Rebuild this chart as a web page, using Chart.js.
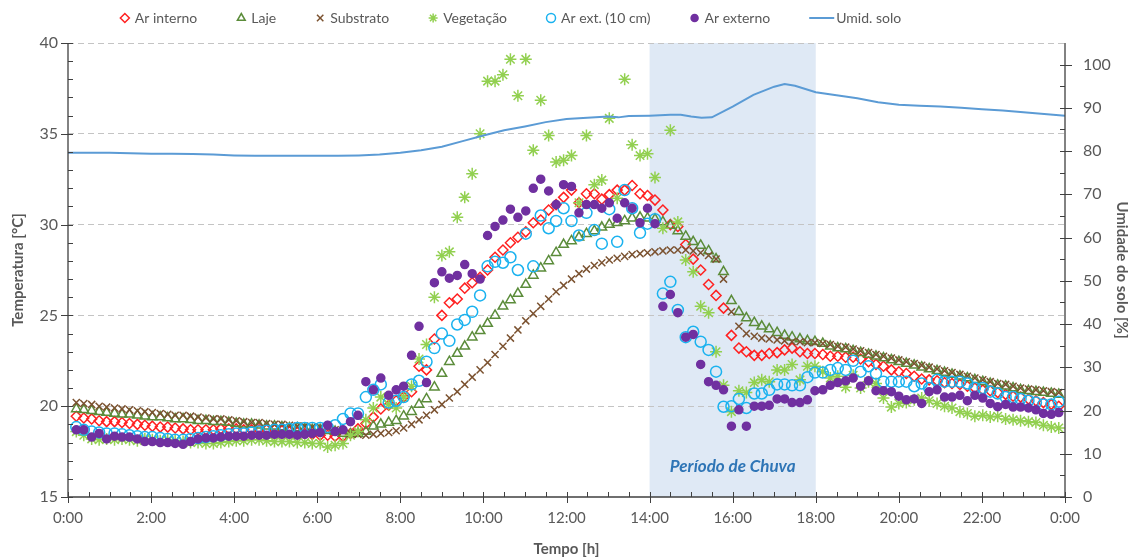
<!DOCTYPE html>
<html><head><meta charset="utf-8">
<script src="https://cdn.jsdelivr.net/npm/chart.js@4.4.0/dist/chart.umd.min.js"></script>
<style>html,body{margin:0;padding:0;background:#fff}#wrap{width:1131px;height:558px}</style>
</head><body><div id="wrap"><canvas id="c" width="1131" height="558"></canvas></div>
<script>
// tempo (horas) das leituras de temperatura
const tempo = [0.20,0.38,0.57,0.75,0.93,1.12,1.30,1.48,1.67,1.85,2.03,
2.22,2.40,2.58,2.77,2.95,3.13,3.32,3.50,3.68,3.87,4.05,
4.23,4.42,4.60,4.78,4.97,5.15,5.33,5.52,5.70,5.88,6.07,
6.25,6.43,6.62,6.80,6.98,7.17,7.35,7.53,7.72,7.90,8.08,
8.27,8.45,8.63,8.82,9.00,9.18,9.37,9.55,9.73,9.92,10.10,
10.28,10.47,10.65,10.83,11.02,11.20,11.38,11.57,11.75,11.93,12.12,
12.30,12.48,12.67,12.85,13.03,13.22,13.40,13.58,13.77,13.95,14.13,
14.32,14.50,14.68,14.87,15.05,15.23,15.42,15.60,15.78,15.97,16.15,
16.33,16.52,16.70,16.88,17.07,17.25,17.43,17.62,17.80,17.98,18.17,
18.35,18.53,18.72,18.90,19.08,19.27,19.45,19.63,19.82,20.00,20.18,
20.37,20.55,20.73,20.92,21.10,21.28,21.47,21.65,21.83,22.02,22.20,
22.38,22.57,22.75,22.93,23.12,23.30,23.48,23.67,23.85];

const arInterno = [19.45,19.35,19.3,19.2,19.15,19.15,19.1,19.05,19.0,18.95,18.9,
18.85,18.85,18.8,18.75,18.7,18.7,18.7,18.7,18.75,18.75,18.75,
18.7,18.7,18.7,18.7,18.7,18.65,18.6,18.55,18.5,18.45,18.4,
18.4,18.35,18.35,18.5,18.75,19.05,19.4,19.85,20.05,20.3,20.5,
20.8,22.2,22.0,23.7,25.0,25.7,25.9,26.5,26.8,27.1,27.5,
28.2,28.6,29.0,29.3,29.6,30.1,30.25,30.8,31.1,31.5,31.9,
31.2,31.7,31.7,31.4,31.65,31.9,31.9,32.15,31.7,31.6,31.35,
30.8,30.0,29.9,28.9,28.1,27.5,26.7,26.1,25.4,23.9,23.2,
23.0,22.8,22.8,22.9,22.95,23.1,23.2,23.0,22.9,22.9,22.85,
22.75,22.75,22.7,22.7,22.6,22.45,22.3,22.2,22.0,21.9,21.8,
21.65,21.5,21.45,21.4,21.3,21.25,21.2,21.1,21.0,20.9,20.85,
20.75,20.65,20.55,20.5,20.4,20.3,20.2,20.1,20.0];

const laje = [19.85,19.8,19.75,19.7,19.65,19.6,19.55,19.55,19.5,19.45,19.4,
19.4,19.35,19.3,19.3,19.25,19.2,19.2,19.15,19.15,19.1,19.05,
19.0,19.0,18.95,18.9,18.9,18.85,18.8,18.8,18.75,18.7,18.7,
18.65,18.6,18.5,18.45,18.5,18.6,18.9,19.0,19.1,19.2,19.45,
19.7,20.1,20.4,21.05,21.8,22.45,22.9,23.3,23.8,24.15,24.55,
25.0,25.5,25.85,26.2,26.7,27.2,27.6,28.0,28.45,28.9,29.1,
29.3,29.5,29.65,29.85,30.0,30.1,30.2,30.35,30.4,30.35,30.3,
30.15,29.95,29.65,29.35,29.05,28.85,28.55,28.1,27.4,25.8,25.2,
24.85,24.6,24.4,24.25,24.05,23.9,23.8,23.7,23.6,23.55,23.45,
23.3,23.2,23.15,23.05,22.95,22.85,22.75,22.65,22.55,22.45,22.35,
22.25,22.15,22.05,21.95,21.85,21.75,21.65,21.55,21.45,21.35,21.25,
21.15,21.1,21.0,20.9,20.85,20.8,20.75,20.7,20.65];

const substrato = [20.2,20.15,20.1,20.0,19.95,19.9,19.85,19.8,19.75,19.7,19.65,
19.6,19.55,19.5,19.5,19.45,19.4,19.35,19.3,19.3,19.25,19.2,
19.15,19.1,19.1,19.05,19.0,19.0,18.95,18.9,18.9,18.85,18.85,
18.8,18.7,18.6,18.5,18.45,18.4,18.45,18.5,18.55,18.65,18.8,
19.0,19.25,19.5,19.8,20.1,20.45,20.8,21.2,21.6,22.0,22.4,
22.85,23.3,23.75,24.2,24.7,25.1,25.5,25.9,26.3,26.65,27.0,
27.3,27.55,27.75,27.9,28.05,28.15,28.25,28.35,28.4,28.45,28.5,
28.55,28.6,28.6,28.6,28.55,28.45,28.3,28.1,27.0,25.2,24.4,
24.0,23.85,23.75,23.7,23.65,23.6,23.55,23.55,23.5,23.5,23.45,
23.4,23.3,23.25,23.15,23.05,22.95,22.85,22.75,22.65,22.55,22.45,
22.35,22.25,22.15,22.05,21.95,21.85,21.75,21.65,21.55,21.45,21.35,
21.25,21.2,21.1,21.0,20.95,20.9,20.85,20.8,20.75];

const vegetacao = [18.6,18.4,18.2,18.15,18.2,18.15,18.2,18.15,18.1,18.2,18.15,
18.1,18.15,18.1,18.05,18.0,18.0,17.95,17.95,18.0,18.05,18.1,
18.1,18.15,18.15,18.1,18.05,18.05,18.05,18.0,18.0,17.95,17.95,
17.75,17.85,17.95,18.4,18.6,19.25,19.9,20.5,20.1,19.9,20.5,
21.1,22.6,23.4,26.0,28.3,28.5,30.4,31.5,32.8,35.0,37.9,
37.9,38.25,39.1,37.1,39.1,34.1,36.85,34.9,33.45,33.55,33.8,
31.2,34.9,32.2,32.45,35.85,31.45,38.0,34.4,33.8,33.9,32.6,
29.8,35.2,30.15,28.05,27.4,25.5,25.15,23.0,21.15,19.7,20.85,
20.75,21.3,21.45,21.35,22.0,22.0,22.3,21.45,22.2,22.2,21.9,
21.55,21.65,21.05,21.7,21.0,21.35,21.25,20.45,19.95,20.15,20.2,
20.35,20.45,20.3,20.15,20.0,19.9,19.7,19.6,19.45,19.5,19.4,
19.45,19.3,19.25,19.2,19.15,19.1,18.95,18.85,18.8];

const arExt10 = [18.85,18.7,18.6,18.55,18.5,18.5,18.45,18.4,18.35,18.3,18.3,
18.25,18.2,18.15,18.15,18.2,18.25,18.3,18.35,18.4,18.45,18.5,
18.5,18.55,18.6,18.65,18.7,18.7,18.75,18.8,18.8,18.8,18.8,
18.85,18.95,19.3,19.6,19.6,20.5,20.9,21.2,20.2,20.3,20.5,
21.2,21.4,22.45,23.2,24.0,23.6,24.5,24.75,25.2,26.1,27.7,
27.95,27.9,28.2,27.5,29.5,27.7,30.5,29.8,30.2,30.9,30.2,
29.4,30.65,29.7,28.95,30.85,29.05,31.9,30.9,29.55,30.05,30.3,
26.2,26.85,25.3,23.8,24.1,23.55,23.1,21.9,19.97,20.0,20.4,
19.9,20.7,20.7,20.9,21.2,21.2,21.15,21.15,21.6,21.85,21.85,
22.0,22.1,22.0,22.5,21.9,22.2,21.8,21.35,21.35,21.35,21.35,
21.1,21.25,21.0,21.45,21.35,21.35,21.35,21.25,21.0,21.0,20.8,
20.7,20.5,20.5,20.4,20.3,20.2,20.1,20.1,20.25];

const arExterno = [18.7,18.7,18.3,18.5,18.2,18.35,18.3,18.3,18.2,18.05,18.05,
18.0,18.0,17.95,17.9,18.05,18.2,18.25,18.25,18.3,18.35,18.35,
18.35,18.4,18.4,18.4,18.45,18.45,18.45,18.4,18.45,18.5,18.55,
18.95,18.6,18.7,19.15,19.5,21.35,20.9,21.55,20.6,20.9,21.1,
22.8,24.4,21.3,26.8,27.4,27.05,27.2,27.8,27.3,27.0,29.4,
29.9,30.25,30.85,30.4,30.75,32.0,32.5,31.85,31.1,32.2,32.1,
30.65,31.1,31.1,30.9,31.2,30.35,31.2,30.9,30.1,30.9,30.05,
25.5,26.15,25.15,23.8,23.95,22.3,21.35,21.15,20.9,18.9,19.8,
18.9,20.0,20.0,20.05,20.4,20.4,20.2,20.2,20.35,20.85,20.9,
21.15,21.3,21.4,21.55,21.1,21.4,20.85,20.85,20.8,20.55,20.35,
20.4,20.15,20.8,20.9,20.5,20.5,20.6,20.3,20.6,20.45,20.15,
19.97,20.1,19.95,19.95,19.9,19.8,19.6,19.55,19.65];

// umidade do solo (%)
const umidTempo = [0,0.5,1,1.5,2,2.5,3,3.5,4,4.5,5,5.5,6,6.5,7,7.5,8,8.5,9,9.5,10,10.5,11,11.5,12,12.5,13,
13.25,13.5,14,14.5,14.75,15,15.25,15.5,16,16.5,17,17.25,17.5,18,
18.5,19,19.5,20,20.5,21,21.5,22,22.5,23,23.5,24];
const umidSolo = [79.6,79.6,79.6,79.5,79.4,79.4,79.3,79.2,79.0,78.9,78.9,78.9,78.9,78.9,79.0,79.2,79.6,80.2,81.0,82.3,83.6,84.8,85.7,86.7,87.4,87.7,88.0,
87.8,88.1,88.2,88.4,88.4,88.0,87.7,87.8,90.3,93.0,94.9,95.5,95.1,93.6,
92.9,92.2,91.3,90.7,90.5,90.3,90.0,89.7,89.4,89.0,88.6,88.2];

const xTicks = [0,2,4,6,8,10,12,14,16,18,20,22,24];
const periodoChuva = [14, 18];

const pts = (arr) => tempo.map((t, i) => ({x: t, y: arr[i]}));
const GREY = '#595959';
const FONT = 'Lato, "Open Sans", sans-serif';
Chart.defaults.font.family = FONT;
Chart.defaults.color = GREY;

const bgPlugin = {
  id: 'bg',
  beforeDraw(chart) {
    const {ctx, chartArea: a, scales: {x}} = chart;
    ctx.save();
    ctx.fillStyle = '#fff';
    ctx.fillRect(0, 0, chart.width, chart.height);
    const x0 = x.getPixelForValue(periodoChuva[0]), x1 = x.getPixelForValue(periodoChuva[1]);
    ctx.fillStyle = '#dfe9f5';
    ctx.fillRect(x0, a.top, x1 - x0, a.bottom - a.top);
    ctx.restore();
  },
  afterDatasetsDraw(chart) {
    const {ctx, chartArea: a, scales: {x}} = chart;
    const x0 = x.getPixelForValue(periodoChuva[0]), x1 = x.getPixelForValue(periodoChuva[1]);
    ctx.save();
    ctx.fillStyle = '#2e75b6';
    ctx.font = 'italic bold 17px ' + FONT;
    ctx.textAlign = 'center';
    ctx.textBaseline = 'middle';
    ctx.fillText('Período de Chuva', (x0 + x1) / 2, a.bottom - 30);
    ctx.restore();
  }
};

const axesPlugin = {
  id: 'axes',
  afterDraw(chart) {
    const {ctx, chartArea: a, scales: {x, y, y1}} = chart;
    ctx.save();
    ctx.strokeStyle = '#404040';
    ctx.lineWidth = 1.3;
    ctx.beginPath();
    ctx.moveTo(a.left, a.top); ctx.lineTo(a.left, a.bottom);
    ctx.moveTo(a.right, a.top); ctx.lineTo(a.right, a.bottom);
    ctx.moveTo(a.left, a.bottom); ctx.lineTo(a.right, a.bottom);
    ctx.stroke();
    ctx.lineWidth = 1;
    ctx.beginPath();
    for (let v = y.min; v <= y.max; v += 1) {
      const p = Math.round(y.getPixelForValue(v)) + 0.5;
      if (v % 5 === 0) { ctx.moveTo(a.left - 7, p); ctx.lineTo(a.left + 5, p); }
      else { ctx.moveTo(a.left, p); ctx.lineTo(a.left + 5, p); }
    }
    for (let v = 0; v <= 100; v += 5) {
      const p = Math.round(y1.getPixelForValue(v)) + 0.5;
      if (v % 10 === 0) { ctx.moveTo(a.right - 5, p); ctx.lineTo(a.right + 7, p); }
      else { ctx.moveTo(a.right - 5, p); ctx.lineTo(a.right, p); }
    }
    for (let v = 0; v <= 24; v += 0.5) {
      const p = Math.round(x.getPixelForValue(v)) + 0.5;
      if (v % 2 === 0) { ctx.moveTo(p, a.bottom - 5); ctx.lineTo(p, a.bottom + 6); }
      else { ctx.moveTo(p, a.bottom - 5); ctx.lineTo(p, a.bottom); }
    }
    ctx.stroke();
    ctx.restore();
  }
};

// legenda desenhada a partir dos próprios datasets
const legendPlugin = {
  id: 'legendaTopo',
  afterDraw(chart) {
    const {ctx} = chart;
    const ds = chart.data.datasets;
    ctx.save();
    ctx.font = '14px ' + FONT;
    ctx.textBaseline = 'middle';
    const gap = 39, markW = 10, lineW = 25, textGap = 5;
    const widths = ds.map(d => (d.pointStyle === 'line' ? lineW : markW) + textGap + ctx.measureText(d.label).width);
    const total = widths.reduce((s, w) => s + w, 0) + gap * (ds.length - 1);
    let cx = 512 - total / 2;
    const cy = 18;
    ds.forEach((d, i) => {
      ctx.strokeStyle = d.borderColor;
      ctx.fillStyle = d.backgroundColor;
      let tx;
      if (d.pointStyle === 'line') {
        ctx.lineWidth = 2;
        ctx.beginPath(); ctx.moveTo(cx, cy); ctx.lineTo(cx + lineW, cy); ctx.stroke();
        tx = cx + lineW + 2;
      } else {
        ctx.lineWidth = 1.5;
        Chart.helpers.drawPoint(ctx, {pointStyle: d.pointStyle, radius: d.pointStyle === 'circle' && d.label === 'Ar externo' ? 3.5 : 4.5, rotation: 0, borderWidth: 1.5}, cx + markW / 2, cy);
        tx = cx + markW + textGap;
      }
      ctx.fillStyle = GREY;
      ctx.fillText(d.label, tx, cy);
      cx += widths[i] + gap;
    });
    ctx.restore();
  }
};

const tempDs = (label, data, color, style, radius, order, fill) => ({
  label, data: pts(data), order,
  pointStyle: style, pointRadius: radius, pointHoverRadius: radius,
  borderColor: color, backgroundColor: fill || 'rgba(0,0,0,0)',
  pointBorderWidth: 1.5, borderWidth: 1.5, showLine: false, yAxisID: 'y'
});

new Chart(document.getElementById('c'), {
  type: 'scatter',
  data: {
    datasets: [
      tempDs('Ar interno', arInterno, '#ff2020', 'rectRot', 5, 7),
      tempDs('Laje', laje, '#5b8c3a', 'triangle', 5.5, 6),
      tempDs('Substrato', substrato, '#7b5230', 'crossRot', 5, 5),
      tempDs('Vegetação', vegetacao, '#92d050', 'star', 6, 4),
      tempDs('Ar ext. (10 cm)', arExt10, '#1ab2ef', 'circle', 5.5, 3),
      tempDs('Ar externo', arExterno, '#7030a0', 'circle', 4, 2, '#7030a0'),
      {
        label: 'Umid. solo', order: 1,
        data: umidTempo.map((t, i) => ({x: t, y: umidSolo[i]})),
        showLine: true, borderColor: '#5b9bd5', backgroundColor: '#5b9bd5',
        borderWidth: 2, pointRadius: 0, pointHoverRadius: 0, pointStyle: 'line',
        tension: 0, yAxisID: 'y1'
      }
    ]
  },
  options: {
    responsive: false,
    animation: false,
    devicePixelRatio: 1,
    layout: {padding: {top: 43, left: 0, right: 0, bottom: 0}},
    plugins: {
      tooltip: {enabled: false},
      legend: {display: false}
    },
    scales: {
      x: {
        type: 'linear', min: 0, max: 24,
        afterBuildTicks: (s) => { s.ticks = xTicks.map(v => ({value: v})); },
        ticks: {padding: 12, font: {size: 15}, color: GREY,
          callback: (v) => (v % 24) + ':00'},
        grid: {display: false, drawTicks: false},
        border: {display: false},
        title: {display: true, text: 'Tempo [h]', font: {size: 15, weight: 'bold'}, color: GREY, padding: {top: 2, bottom: 0}},
        afterFit: (s) => { s.height = 61; }
      },
      y: {
        position: 'left', min: 15, max: 40,
        ticks: {stepSize: 5, padding: 10, font: {size: 16}, color: GREY, includeBounds: false},
        grid: {drawTicks: false, color: (c) => c.tick && c.tick.value > 15 ? '#c4c4c4' : 'rgba(0,0,0,0)', lineWidth: 1},
        border: {display: false, dash: [6, 4]},
        title: {display: true, text: 'Temperatura [°C]', font: {size: 15, weight: 'bold'}, color: GREY, padding: {top: 9, bottom: 4}},
        afterFit: (s) => { s.width = 68; }
      },
      y1: {
        position: 'right', min: 0, max: 105,
        ticks: {stepSize: 10, padding: 18, font: {size: 16}, color: GREY, includeBounds: false},
        grid: {display: false, drawTicks: false},
        border: {display: false},
        title: {display: true, text: 'Umidade do solo [%]', font: {size: 15, weight: 'bold'}, color: GREY, padding: {top: 0, bottom: 2}},
        afterFit: (s) => { s.width = 66; }
      }
    }
  },
  plugins: [bgPlugin, axesPlugin, legendPlugin]
});
</script>
</body></html>
